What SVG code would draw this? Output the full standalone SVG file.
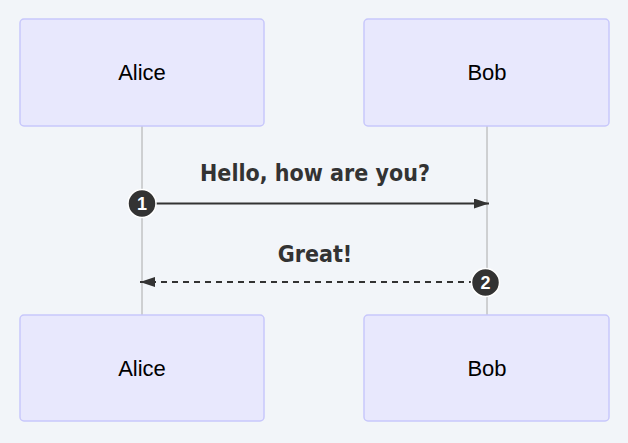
<svg xmlns="http://www.w3.org/2000/svg" width="628" height="443" viewBox="0 0 628 443">
<style>
.actor{fill:#e8e8fd;stroke:#c7c7fb;stroke-width:1.5}
.atext{font-family:"Liberation Sans",Arial,sans-serif;font-size:22px;fill:#000;text-anchor:middle}
.life{stroke:#aaaaaa;stroke-width:1}
.msg{font-family:"DejaVu Sans Condensed","DejaVu Sans",sans-serif;font-weight:bold;font-size:23px;fill:#333;text-anchor:middle}
.line{stroke:#333;stroke-width:2;fill:none}
.num{fill:#333;stroke:#fff;stroke-width:1.5}
.ntext{font-family:"Liberation Sans",Arial,sans-serif;font-weight:bold;font-size:18px;fill:#fff;text-anchor:middle}
</style>
<defs>
<marker id="arrow" viewBox="0 0 15 10" refX="15" refY="5" markerWidth="15" markerHeight="10" markerUnits="userSpaceOnUse" orient="auto">
<path d="M0,0 L15,5 L0,10 z" fill="#333"/>
</marker>
</defs>
<rect width="628" height="443" fill="#f2f5f9"/>
<g id="lifelines">
<line class="life" x1="142" y1="126" x2="142" y2="315"/>
<line class="life" x1="487" y1="126" x2="487" y2="315"/>
</g>
<g id="alice-top"><rect class="actor" x="20" y="19" width="244" height="107" rx="4"/><text class="atext" x="142" y="80">Alice</text></g>
<g id="bob-top"><rect class="actor" x="364" y="19" width="245" height="107" rx="4"/><text class="atext" x="487" y="80">Bob</text></g>
<g id="alice-bottom"><rect class="actor" x="20" y="315" width="244" height="106" rx="4"/><text class="atext" x="142" y="376">Alice</text></g>
<g id="bob-bottom"><rect class="actor" x="364" y="315" width="245" height="106" rx="4"/><text class="atext" x="487" y="376">Bob</text></g>
<g id="connectors">
<line class="line" x1="142" y1="203.5" x2="489" y2="203.5" marker-end="url(#arrow)"/>
<text class="msg" x="315" y="181">Hello, how are you?</text>
<line class="line" x1="486" y1="282" x2="140" y2="282" stroke-dasharray="6,5" marker-end="url(#arrow)"/>
<text class="msg" x="315" y="262">Great!</text>
<circle class="num" cx="142" cy="203.5" r="14"/><text class="ntext" x="142" y="210">1</text>
<circle class="num" cx="485.5" cy="282.5" r="14"/><text class="ntext" x="485.5" y="289">2</text>
</g>
</svg>
